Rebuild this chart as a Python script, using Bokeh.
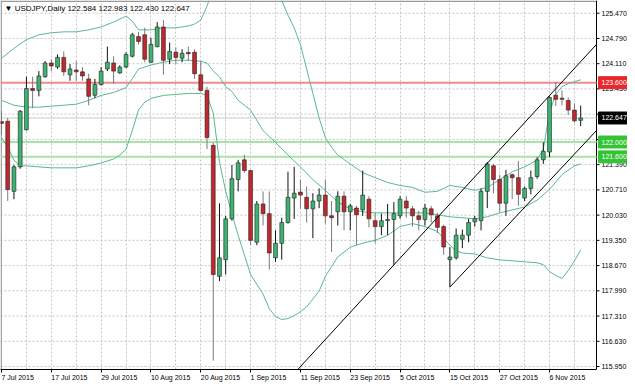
import math
from bokeh.plotting import figure
from bokeh.models import (Range1d, FixedTicker, Label, Span, ColumnDataSource,
                          CustomJSTickFormatter)
from bokeh.core.properties import value
from bokeh.embed import file_html
from bokeh.resources import INLINE

# ---- daily candles, USDJPY (bar index 0 = 7 Jul 2015) ----
opens = [122.55, 122.56, 120.67, 121.33, 122.33, 123.44, 123.39, 123.76, 124.13, 124.02,
         124.28, 123.81, 123.94, 123.89, 123.70, 123.26, 123.55, 123.97, 124.13, 123.86,
         124.02, 124.31, 124.84, 124.89, 124.15, 124.57, 125.10, 124.23, 124.42, 124.26,
         124.40, 124.42, 123.81, 123.39, 121.91, 118.38, 118.83, 119.93, 120.99, 121.52,
         121.23, 119.30, 120.33, 120.07, 118.88, 119.27, 119.83, 120.49, 120.65, 120.51,
         120.20, 120.41, 120.57, 120.01, 120.12, 120.54, 120.12, 120.22, 120.17, 120.46,
         119.88, 119.72, 119.88, 119.91, 120.01, 120.41, 120.20, 120.01, 119.91, 120.20,
         120.01, 119.72, 118.83, 118.88, 119.38, 119.49, 119.85, 119.88, 120.67, 121.36,
         120.99, 120.35, 121.12, 121.04, 120.49, 120.75, 121.07, 121.52, 121.73, 123.26,
         123.18, 123.12, 122.86, 122.584]
highs = [122.83, 122.65, 121.38, 122.86, 123.76, 123.76, 123.91, 124.18, 124.23, 124.36,
         124.44, 124.10, 124.18, 124.02, 123.84, 123.70, 124.02, 124.57, 124.31, 124.07,
         124.42, 124.94, 124.97, 125.08, 124.81, 125.23, 125.29, 124.68, 124.55, 124.50,
         124.57, 124.50, 124.18, 123.49, 121.99, 120.35, 120.01, 121.38, 121.52, 121.65,
         121.25, 120.41, 120.67, 120.67, 119.62, 119.96, 121.20, 121.33, 120.99, 120.80,
         120.62, 120.75, 120.99, 120.41, 120.67, 120.67, 120.33, 120.28, 121.23, 120.54,
         120.09, 120.07, 120.33, 120.38, 120.54, 120.54, 120.28, 120.14, 120.33, 120.28,
         120.09, 119.77, 119.17, 119.67, 119.64, 119.93, 120.01, 120.75, 121.46, 121.41,
         121.12, 121.25, 121.15, 121.49, 120.80, 121.23, 121.59, 121.99, 123.23, 123.62,
         123.39, 123.20, 123.04, 122.983]
lows = [122.20, 120.41, 120.46, 121.28, 122.31, 122.91, 123.23, 123.73, 123.91, 123.97,
        123.78, 123.65, 123.65, 123.65, 122.99, 123.18, 123.52, 123.91, 123.57, 123.84,
        123.99, 124.28, 124.63, 124.15, 124.13, 124.55, 123.81, 124.10, 124.10, 124.15,
        124.18, 123.70, 123.36, 121.81, 116.11, 118.25, 118.43, 119.88, 120.67, 121.17,
        119.22, 119.22, 119.75, 118.56, 118.77, 118.83, 119.80, 119.93, 120.20, 119.83,
        119.41, 120.22, 119.80, 119.04, 119.75, 119.62, 119.62, 119.22, 120.01, 119.70,
        119.27, 119.49, 119.49, 118.69, 119.93, 119.96, 119.72, 119.62, 119.75, 119.83,
        119.54, 118.96, 118.09, 118.83, 119.14, 119.30, 119.72, 119.62, 120.22, 120.62,
        120.12, 120.01, 120.46, 120.28, 120.41, 120.59, 121.01, 121.41, 121.59, 122.97,
        122.99, 122.73, 122.52, 122.430]
closes = [122.50, 120.72, 121.33, 122.83, 123.44, 123.39, 123.78, 124.13, 124.05, 124.28,
          123.89, 123.97, 123.89, 123.78, 123.23, 123.55, 123.91, 124.15, 123.91, 124.02,
          124.36, 124.89, 124.71, 124.23, 124.63, 125.10, 124.20, 124.44, 124.28, 124.39,
          124.39, 123.84, 123.39, 122.12, 118.43, 118.88, 119.93, 121.01, 121.44, 121.23,
          119.35, 120.33, 120.07, 119.01, 119.27, 119.83, 120.51, 120.62, 120.57, 120.20,
          120.41, 120.57, 120.01, 119.96, 120.54, 120.12, 120.28, 120.04, 120.57, 119.93,
          119.72, 119.88, 119.91, 120.07, 120.46, 120.22, 120.01, 119.91, 120.22, 120.04,
          119.70, 119.17, 118.90, 119.49, 119.49, 119.83, 119.93, 120.67, 121.41, 120.99,
          120.35, 121.09, 121.04, 120.59, 120.75, 121.04, 121.52, 121.75, 123.20, 123.15,
          123.15, 122.86, 122.57, 122.647]

# ---- Bollinger bands (bar index, price) ----
upper_bars = [0, 2, 4, 6, 8, 10, 12, 14, 16, 18, 20, 21, 22, 24, 26, 28, 30, 31, 32, 33, 33.3,
              39, 45, 46, 47, 48, 49, 50, 51, 52, 53, 54, 56, 58, 60, 62, 64, 66, 68, 70, 72,
              74, 76, 78, 80, 82, 84, 86, 87, 88, 89, 90, 91, 92, 93]
upper_vals = [124.257, 124.521, 124.758, 124.890, 124.943, 124.969, 124.969, 125.022, 125.101,
              125.233, 125.391, 125.259, 125.022, 125.022, 125.075, 125.075, 125.127, 125.180,
              125.286, 125.655, 125.813,
              float("nan"), 125.813, 125.418, 125.075, 124.627, 123.967, 123.308, 122.649,
              122.121, 121.858, 121.647, 121.409, 121.172, 121.040, 120.909, 120.829, 120.776,
              120.645, 120.671, 120.829, 120.776, 120.697, 120.776, 120.987, 121.198, 121.330,
              121.515, 121.805, 122.807, 123.282, 123.492, 123.572, 123.624, 123.677]
middle_bars = [0, 2, 4, 6, 8, 10, 12, 14, 16, 18, 20, 21, 22, 24, 26, 28, 30, 32, 33, 34, 35,
               36, 37, 38, 39, 40, 42, 44, 46, 48, 50, 52, 54, 56, 58, 60, 62, 64, 66, 68, 70,
               72, 74, 76, 78, 80, 82, 84, 86, 88, 90, 92, 93]
middle_vals = [123.123, 122.991, 122.939, 122.939, 122.965, 122.991, 123.018, 123.123, 123.255,
               123.334, 123.466, 123.703, 123.967, 124.073, 124.152, 124.204, 124.204, 124.178,
               124.125, 123.914, 123.756, 123.492, 123.361, 123.123, 122.991, 122.860, 122.306,
               121.989, 121.647, 121.330, 120.987, 120.697, 120.381, 120.196, 120.117, 120.091,
               120.091, 120.091, 120.091, 120.091, 120.038, 119.985, 119.959, 119.932, 119.985,
               120.091, 120.170, 120.249, 120.433, 120.724, 121.119, 121.357, 121.409]
lower_bars = [0, 1, 2, 3, 4, 6, 8, 10, 12, 14, 16, 18, 19, 20, 21, 22, 23, 24, 26, 28, 30, 32,
              33, 34, 35, 36, 37, 38, 39, 40, 41, 42, 43, 44, 45, 46, 47, 48, 49, 50, 51, 52,
              53, 54, 56, 58, 60, 62, 64, 66, 68, 70, 72, 73, 74, 76, 78, 80, 82, 84, 86, 87,
              88, 89, 90, 91, 92, 93]
lower_vals = [122.121, 121.858, 121.515, 121.357, 121.357, 121.330, 121.304, 121.304, 121.304,
              121.357, 121.436, 121.541, 121.647, 121.805, 122.306, 122.860, 123.071, 123.176,
              123.255, 123.282, 123.308, 123.308, 123.255, 122.780, 121.462, 120.671, 120.065,
              119.485, 118.957, 118.430, 118.166, 117.902, 117.507, 117.296, 117.217, 117.243,
              117.322, 117.428, 117.559, 117.770, 117.981, 118.377, 118.641, 118.904, 119.168,
              119.273, 119.352, 119.485, 119.722, 119.801, 119.722, 119.590, 119.221, 119.063,
              119.010, 118.983, 118.878, 118.825, 118.799, 118.772, 118.746, 118.694, 118.509,
              118.404, 118.325, 118.535, 118.799, 119.089]

# ---- drawn objects ----
channel_upper_bars = [45.0, 95.54]
channel_upper_prices = [115.40, 124.63]
channel_lower_bars = [72.0, 95.54]
channel_lower_prices = [118.09, 122.31]
red_level = 123.600
green_levels = [122.000, 121.600]
last_price = 122.647

# ---- axes ----
y_ticks = [115.95, 116.63, 117.31, 117.99, 118.67, 119.35, 120.03, 120.71, 121.39, 122.07,
           122.75, 123.43, 124.11, 124.79, 125.47]
date_ticks = [0, 8, 16, 24, 32, 40, 48, 56, 64, 72, 80, 88]
date_labels = ["7 Jul 2015", "17 Jul 2015", "29 Jul 2015", "10 Aug 2015", "20 Aug 2015",
               "1 Sep 2015", "11 Sep 2015", "23 Sep 2015", "5 Oct 2015", "15 Oct 2015",
               "27 Oct 2015", "6 Nov 2015"]
header = "USDJPY,Daily 122.584 122.983 122.430 122.647"

FONT = "Liberation Sans"
BULL = "#3CB371"
BEAR = "#C0282D"
BAND = "#5AB890"
GRID = "#c4c4c4"

# ---- geometry: chart area + price scale strip on the right, all inside one frame ----
W, H = 627, 383
SCALE_W, BOTTOM_PANEL = 31, 12
X0, X1 = -0.16, 95.54            # visible bar span of the chart area
Y0, Y1 = 115.87, 125.813
ppb = (W - SCALE_W) / (X1 - X0)  # pixels per bar
XR = X0 + W / ppb                # frame extends under the price scale strip
ypp = (Y1 - Y0) / (H - BOTTOM_PANEL)  # price per pixel

p = figure(width=W, height=H, output_backend="svg", toolbar_location=None,
           x_range=Range1d(X0, XR), y_range=Range1d(Y0, Y1),
           y_axis_location=None, min_border_left=0, min_border_top=0,
           min_border_right=0, min_border_bottom=BOTTOM_PANEL)
p.background_fill_color = "white"
p.border_fill_color = "white"
p.outline_line_color = None

# grid
p.xgrid.ticker = FixedTicker(ticks=list(range(4, 96, 4)))
p.xgrid.grid_line_color = GRID
p.xgrid.grid_line_dash = "2 2"
p.ygrid.grid_line_color = None
p.segment(x0=[X0] * len(y_ticks), x1=[X1] * len(y_ticks), y0=y_ticks, y1=y_ticks,
          line_color=GRID, line_dash="2 2", line_width=1)

# x axis: Bokeh centres labels on ticks, so labelled ticks sit half a label to the right of
# their dates; the short tick marks at the dates are the minor ticks.
def text_em(s):
    w = {" ": 0.278, ".": 0.278, "J": 0.5, "A": 0.667, "S": 0.667, "O": 0.778, "N": 0.722,
         "u": 0.556, "l": 0.222, "g": 0.556, "e": 0.556, "p": 0.556, "c": 0.5, "t": 0.278,
         "o": 0.556, "v": 0.5}
    return sum(w.get(ch, 0.556) for ch in s)

label_centres = [t + (text_em(l) * 7 / 2) / ppb for t, l in zip(date_ticks, date_labels)]
xa = p.xaxis[0]
xa.ticker = FixedTicker(ticks=label_centres, minor_ticks=date_ticks)
xa.formatter = CustomJSTickFormatter(args=dict(labels=date_labels),
                                     code="return labels[index] || '';")
xa.bounds = (X0, X1)
xa.axis_line_color = "black"
xa.major_tick_line_color = None
xa.minor_tick_line_color = "black"
xa.minor_tick_out = 3
xa.minor_tick_in = 0
xa.major_tick_out = 3
xa.major_label_standoff = 1
xa.major_label_text_font = FONT
xa.major_label_text_font_size = "7px"
xa.major_label_text_color = "black"

# chart border (left/top gray) and price scale line (right, black)
p.segment(x0=[X0 + 0.7 / ppb, X0], x1=[X0 + 0.7 / ppb, X1], y0=[Y0, Y1 - 0.7 * ypp],
          y1=[Y1, Y1 - 0.7 * ypp], line_color="#9a9a9a", line_width=1.4)
p.segment(x0=[X1], x1=[X1], y0=[Y0], y1=[Y1], line_color="black", line_width=1)

# horizontal levels
p.segment(x0=[X0], x1=[X1], y0=[red_level], y1=[red_level], line_color="#EE8C8C", line_width=2)
p.segment(x0=[X0] * 2, x1=[X1] * 2, y0=green_levels, y1=green_levels,
          line_color="#A8E4A8", line_width=2)
p.segment(x0=[X0], x1=[X1], y0=[last_price], y1=[last_price], line_color="#C8C8C8", line_width=1)

# Bollinger bands
p.line(upper_bars, upper_vals, line_color=BAND, line_width=1)
p.line(middle_bars, middle_vals, line_color=BAND, line_width=1)
p.line(lower_bars, lower_vals, line_color=BAND, line_width=1)

# candles
idx = list(range(len(opens)))
bull = [c >= o for o, c in zip(opens, closes)]
src = ColumnDataSource(dict(
    x=idx, o=opens, h=highs, l=lows, c=closes,
    top=[max(o, c) + (0.012 if abs(o - c) < 0.02 else 0) for o, c in zip(opens, closes)],
    bottom=[min(o, c) - (0.012 if abs(o - c) < 0.02 else 0) for o, c in zip(opens, closes)],
    fill=[BULL if b else BEAR for b in bull],
    wick=["#111111" if b else "#7a7a7a" for b in bull],
))
p.segment(x0="x", y0="l", x1="x", y1="h", source=src, line_color="wick", line_width=1)
p.vbar(x="x", top="top", bottom="bottom", width=0.62, source=src,
       fill_color="fill", line_color="#222222", line_width=0.6)

# channel
p.line(channel_upper_bars, channel_upper_prices, line_color="black", line_width=1)
p.line(channel_lower_bars, channel_lower_prices, line_color="black", line_width=1)

# price scale: tick marks and labels
p.segment(x0=[X1] * len(y_ticks), x1=[X1 + 3 / ppb] * len(y_ticks), y0=y_ticks, y1=y_ticks,
          line_color="black", line_width=1)
p.text(x=[X1 + 5 / ppb] * len(y_ticks), y=y_ticks, text=["%.3f" % t for t in y_ticks],
       text_font=value(FONT), text_font_size="7px", text_color="black",
       text_align="left", text_baseline="middle")

# price tags
tag_prices = [red_level] + green_levels + [last_price]
tag_colors = ["#E8282A", "#33C333", "#33C333", "#000000"]
tsrc = ColumnDataSource(dict(
    y=tag_prices, text=["%.3f" % v for v in tag_prices], bg=tag_colors,
    left=[X1 + 2 / ppb] * 4, right=[XR] * 4,
    top=[v + 6 * ypp for v in tag_prices], bottom=[v - 6 * ypp for v in tag_prices],
    tx=[X1 + 5 / ppb] * 4))
p.quad(left="left", right="right", top="top", bottom="bottom", source=tsrc,
       fill_color="bg", line_color="bg")
p.text(x="tx", y="y", text="text", source=tsrc, text_font=value(FONT), text_font_size="7px",
       text_color="white", text_align="left", text_baseline="middle")

# header
p.add_layout(Label(x=X0, y=Y1, x_offset=4, y_offset=-3, text="\u25bc " + header,
                   text_font=FONT, text_font_size="8px", text_color="black",
                   text_align="left", text_baseline="top"))

open("out.html", "w").write(file_html(p, INLINE))
